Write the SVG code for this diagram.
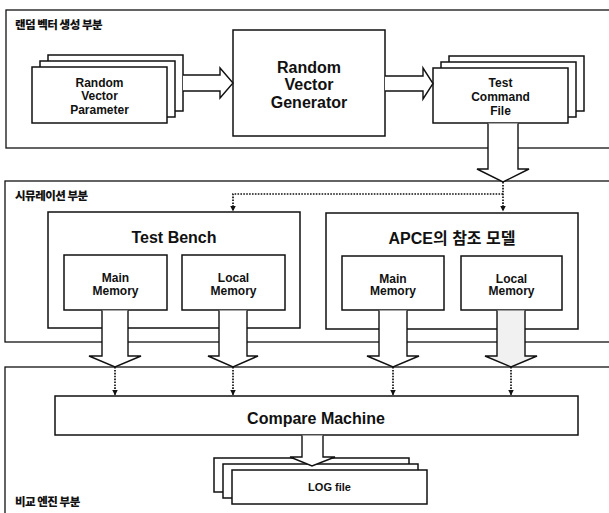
<svg xmlns="http://www.w3.org/2000/svg" width="609" height="513" viewBox="0 0 609 513">
  <style>
    .frame { fill: none; stroke: #111; stroke-width: 1.3; }
    .box { fill: #fff; stroke: #111; stroke-width: 1.5; }
    .fat { fill: #fff; stroke: #111; stroke-width: 1.4; stroke-linejoin: miter; }
    .dot { fill: none; stroke: #111; stroke-width: 1.7; stroke-dasharray: 1.6 1.3; }
    text { font-family: "Liberation Sans", "Noto Sans CJK KR", Arial, sans-serif; font-weight: bold; fill: #111; text-anchor: middle; }
    .sec { font-family: "Noto Sans CJK KR", "Liberation Sans", sans-serif; font-weight: 900; font-size: 11.5px; text-anchor: start; letter-spacing: -0.5px; }
    .big { font-size: 16px; }
    .mid { font-size: 12px; }
    .kr { font-family: "Liberation Sans", "Noto Sans CJK KR", sans-serif; }
  </style>
  <defs>
    <marker id="tip" viewBox="0 0 6 6" refX="5.5" refY="3" markerWidth="6" markerHeight="6" markerUnits="userSpaceOnUse" orient="auto">
      <path d="M0,0 L6,3 L0,6 Z" fill="#111"/>
    </marker>
  </defs>

  <rect width="609" height="513" fill="#fff"/>

  <!-- section frames (right side runs off the page) -->
  <g id="sec-generate">
    <rect class="frame" x="6" y="10" width="640" height="138"/>
    <text class="sec" x="15" y="29">랜덤 벡터 생성 부분</text>
  </g>
  <g id="sec-simulate">
    <rect class="frame" x="5" y="181" width="640" height="161"/>
    <text class="sec" x="15" y="200">시뮤레이션 부분</text>
  </g>
  <g id="sec-compare">
    <rect class="frame" x="5" y="367" width="640" height="200"/>
    <text class="sec" x="15" y="506">비교 엔진 부분</text>
  </g>

  <!-- stacked parameter sheets -->
  <g id="rv-param">
    <rect class="box" x="48" y="55" width="135" height="56"/>
    <rect class="box" x="40" y="61" width="135" height="56"/>
    <rect class="box" x="32" y="67" width="135" height="56"/>
    <text class="mid" x="99.5" y="86.5">Random</text>
    <text class="mid" x="99.5" y="100">Vector</text>
    <text class="mid" x="99.5" y="113.5">Parameter</text>
  </g>

  <g id="rv-generator">
    <rect class="box" x="233" y="30" width="152" height="106"/>
    <text class="big" x="309" y="73">Random</text>
    <text class="big" x="309" y="90">Vector</text>
    <text class="big" x="309" y="108">Generator</text>
  </g>

  <!-- stacked command files -->
  <g id="test-cmd">
    <rect class="box" x="449" y="56" width="135" height="55"/>
    <rect class="box" x="441" y="62" width="135" height="55"/>
    <rect class="box" x="433" y="68" width="135" height="55"/>
    <text class="mid" x="500.5" y="87">Test</text>
    <text class="mid" x="500.5" y="101">Command</text>
    <text class="mid" x="500.5" y="114.5">File</text>
  </g>

  <g id="test-bench">
    <rect class="box" x="48" y="212" width="252" height="116"/>
    <text class="big" x="174" y="243">Test Bench</text>
  </g>
  <g id="tb-main">
    <rect class="box" x="64" y="255" width="103" height="55"/>
    <text class="mid" x="115.5" y="282">Main</text>
    <text class="mid" x="115.5" y="294.5">Memory</text>
  </g>
  <g id="tb-local">
    <rect class="box" x="182" y="255" width="103" height="55"/>
    <text class="mid" x="233.5" y="282">Local</text>
    <text class="mid" x="233.5" y="294.5">Memory</text>
  </g>

  <g id="ref-model">
    <rect class="box" x="326" y="213" width="252" height="116"/>
    <text class="big kr" x="452" y="244">APCE의 참조 모델</text>
  </g>
  <g id="ref-main">
    <rect class="box" x="342" y="256" width="102" height="54"/>
    <text class="mid" x="393" y="282.5">Main</text>
    <text class="mid" x="393" y="295">Memory</text>
  </g>
  <g id="ref-local">
    <rect class="box" x="461" y="256" width="101" height="54"/>
    <text class="mid" x="511.5" y="282.5">Local</text>
    <text class="mid" x="511.5" y="295">Memory</text>
  </g>

  <g id="compare-machine">
    <rect class="box" x="55" y="396" width="523" height="39"/>
    <text class="big" x="316" y="424">Compare Machine</text>
  </g>

  <!-- log sheets: back two layers first, arrow sits between them and the front -->
  <g id="log-file-back">
    <rect class="box" x="214" y="458" width="195" height="34"/>
    <rect class="box" x="223" y="464" width="195" height="34"/>
  </g>

  <g id="connectors">
    <!-- hollow block arrows -->
    <path class="fat" d="M183,75 H220 V68 L233,83 L220,98 V91 H183"/>
    <path class="fat" d="M385,76 H423 V68 L433,83.5 L423,99 V91 H385"/>
    <path class="fat" d="M488,123.5 V169 H477 L503,182 L529,169 H518 V123.5"/>
    <path class="fat" d="M102,310.5 V356 H89 L115,367 L141,356 H128 V310.5"/>
    <path class="fat" d="M219,310.5 V356 H208 L233,367 L258,356 H247 V310.5"/>
    <path class="fat" d="M379,310.5 V356 H367 L393,367 L419,356 H407 V310.5"/>
    <path class="fat" d="M497,310.5 V356 H485 L511,367 L537,356 H525 V310.5" style="fill:#f1f1f1"/>
    <path class="fat" d="M302,435.5 V457 H290 L312,466 L335,457 H323 V435.5"/>

    <!-- dotted feeds -->
    <path class="dot" d="M503,182 V211" marker-end="url(#tip)"/>
    <path class="dot" d="M503,194 H233 V211" marker-end="url(#tip)"/>
    <path class="dot" d="M115,367 V395" marker-end="url(#tip)"/>
    <path class="dot" d="M233,367 V395" marker-end="url(#tip)"/>
    <path class="dot" d="M393,367 V395" marker-end="url(#tip)"/>
    <path class="dot" d="M511,367 V395" marker-end="url(#tip)"/>
  </g>

  <g id="log-file">
    <rect class="box" x="232" y="470" width="195" height="34"/>
    <text class="mid" x="329.5" y="491" style="font-size:11px">LOG file</text>
  </g>
</svg>
